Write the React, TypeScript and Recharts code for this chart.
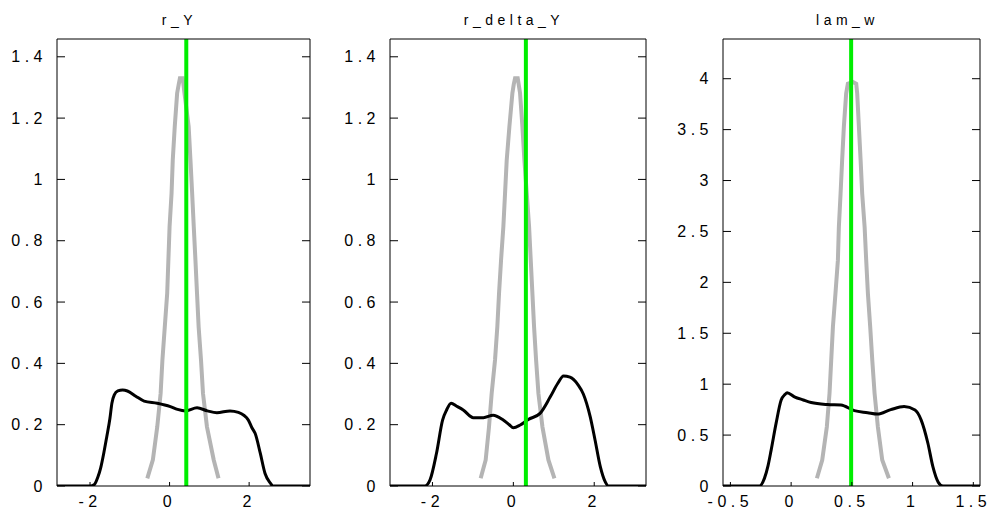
import React from 'react';
import { LineChart, Line, XAxis, YAxis, ReferenceLine } from 'recharts';

// posterior (black) and prior (grey) densities as [x, density]
const rYPost = [
  [-2.83, 0], [-2.0, 0], [-1.89, 0.005], [-1.8, 0.03], [-1.73, 0.06], [-1.65, 0.11], [-1.58, 0.16],
  [-1.5, 0.22], [-1.45, 0.27], [-1.39, 0.297], [-1.3, 0.31], [-1.18, 0.313], [-1.06, 0.31],
  [-0.85, 0.293], [-0.64, 0.277], [-0.31, 0.27], [0.02, 0.259], [0.2, 0.25], [0.4, 0.245],
  [0.69, 0.255], [0.95, 0.245], [1.19, 0.239], [1.52, 0.245], [1.73, 0.24], [1.98, 0.215],
  [2.07, 0.19], [2.15, 0.172], [2.28, 0.107], [2.4, 0.041], [2.53, 0.01], [2.6, 0], [3.53, 0],
];
const rYPrior = [
  [-0.56, 0.025], [-0.42, 0.085], [-0.31, 0.193], [-0.225, 0.302], [-0.18, 0.411], [-0.12, 0.52],
  [-0.06, 0.628], [-0.03, 0.737], [0.0, 0.846], [0.05, 0.955], [0.08, 1.063], [0.13, 1.172],
  [0.19, 1.281], [0.23, 1.31], [0.26, 1.33], [0.33, 1.33], [0.375, 1.281], [0.48, 1.172],
  [0.525, 1.063], [0.567, 0.955], [0.608, 0.846], [0.65, 0.737], [0.69, 0.628], [0.73, 0.52],
  [0.79, 0.411], [0.84, 0.302], [0.94, 0.193], [1.11, 0.085], [1.23, 0.025],
];
const rYTrue = 0.42;

const rDeltaYPost = [
  [-3.05, 0], [-2.19, 0], [-2.06, 0.02], [-1.9, 0.107], [-1.75, 0.215], [-1.65, 0.248],
  [-1.54, 0.27], [-1.4, 0.26], [-1.24, 0.248], [-0.99, 0.223], [-0.74, 0.223], [-0.5, 0.231],
  [-0.25, 0.215], [-0.1, 0.2], [0.0, 0.19], [0.17, 0.199], [0.37, 0.217], [0.66, 0.237],
  [0.91, 0.29], [1.1, 0.335], [1.24, 0.359], [1.4, 0.355], [1.6, 0.33], [1.73, 0.3],
  [1.9, 0.226], [2.02, 0.15], [2.15, 0.063], [2.27, 0.014], [2.35, 0], [3.28, 0],
];
const rDeltaYPrior = [
  [-0.808, 0.025], [-0.684, 0.085], [-0.602, 0.193], [-0.536, 0.302], [-0.453, 0.411],
  [-0.396, 0.52], [-0.354, 0.628], [-0.304, 0.737], [-0.247, 0.846], [-0.205, 0.955],
  [-0.164, 1.063], [-0.098, 1.172], [-0.024, 1.281], [0.01, 1.31], [0.042, 1.33], [0.108, 1.33],
  [0.166, 1.281], [0.224, 1.172], [0.273, 1.063], [0.331, 0.955], [0.389, 0.846], [0.43, 0.737],
  [0.471, 0.628], [0.512, 0.52], [0.562, 0.411], [0.62, 0.302], [0.719, 0.193], [0.867, 0.085],
  [1.016, 0.025],
];
const rDeltaYTrue = 0.31;

const lamWPost = [
  [-0.561, 0], [-0.26, 0], [-0.22, 0.075], [-0.19, 0.2], [-0.165, 0.35], [-0.124, 0.615],
  [-0.082, 0.844], [-0.05, 0.9], [-0.033, 0.916], [0.027, 0.876], [0.1, 0.845], [0.165, 0.82],
  [0.3, 0.8], [0.41, 0.795], [0.52, 0.74], [0.63, 0.72], [0.71, 0.706], [0.82, 0.75],
  [0.93, 0.78], [1.02, 0.746], [1.07, 0.65], [1.126, 0.42], [1.167, 0.19], [1.21, 0.04],
  [1.25, 0], [1.555, 0],
];
const lamWPrior = [
  [0.212, 0.076], [0.256, 0.255], [0.294, 0.582], [0.316, 0.91], [0.33, 1.237], [0.344, 1.563],
  [0.365, 1.891], [0.385, 2.218], [0.393, 2.545], [0.407, 2.872], [0.42, 3.2], [0.434, 3.526],
  [0.453, 3.854], [0.467, 3.95], [0.508, 3.968], [0.536, 3.95], [0.544, 3.854], [0.558, 3.526],
  [0.572, 3.2], [0.585, 2.872], [0.605, 2.545], [0.618, 2.218], [0.632, 1.891], [0.651, 1.563],
  [0.668, 1.237], [0.687, 0.91], [0.714, 0.582], [0.75, 0.255], [0.805, 0.076],
];
const lamWTrue = 0.494;

const xTicksWide = [-2, 0, 2];
const xTicksLam = [-0.5, 0, 0.5, 1, 1.5];
const yTicksR = [0, 0.2, 0.4, 0.6, 0.8, 1, 1.2, 1.4];
const yTicksLam = [0, 0.5, 1, 1.5, 2, 2.5, 3, 3.5, 4];

const toPts = (a: number[][]) => a.map(([x, y]) => ({ x, y }));

const FONT = '"Liberation Sans", Arial, Helvetica, sans-serif';
const tickStyle = { fontSize: 16, fill: '#000', letterSpacing: 4.5, fontFamily: FONT };
const noLabel = () => <g />;

type PanelProps = {
  title: string;
  post: number[][];
  prior: number[][];
  truth: number;
  xDomain: [number, number];
  xTicks: number[];
  yDomain: [number, number];
  yTicks: number[];
  left: number;
  width: number;
  yw: number;
  rw: number;
};

const Panel = ({ title, post, prior, truth, xDomain, xTicks, yDomain, yTicks, left, width, yw, rw }: PanelProps) => {
  const plotCenter = yw + (width - yw - rw) / 2;
  return (
    <div style={{ position: 'absolute', left, top: 0, width, height: 513 }}>
      <div
        style={{
          position: 'absolute', left: plotCenter - 104, width: 200, top: 13, textAlign: 'center',
          fontFamily: FONT, fontSize: 14, lineHeight: '14px', letterSpacing: 4.5, color: '#000',
        }}
      >
        {title}
      </div>
      <LineChart width={width} height={513} margin={{ top: 0, right: 0, bottom: 0, left: 0 }}>
        <XAxis dataKey="x" type="number" domain={xDomain} ticks={xTicks} allowDataOverflow
          height={27} stroke="#000" tickSize={-4} tickMargin={14} tick={tickStyle} tickFormatter={String} />
        <XAxis xAxisId="top" orientation="top" type="number" domain={xDomain} ticks={xTicks} allowDataOverflow
          height={39} stroke="#000" tickSize={-4} tick={noLabel} />
        <YAxis type="number" domain={yDomain} ticks={yTicks} allowDataOverflow width={yw}
          stroke="#000" tickSize={-8} tickMargin={18} tick={tickStyle} tickFormatter={String} />
        <YAxis yAxisId="right" orientation="right" type="number" domain={yDomain} ticks={yTicks} allowDataOverflow
          width={rw} stroke="#000" tickSize={-8} tick={noLabel} />
        <Line data={toPts(prior)} dataKey="y" type="linear" stroke="#b4b4b4" strokeWidth={4}
          dot={false} isAnimationActive={false} />
        <Line data={toPts(post)} dataKey="y" type="monotone" stroke="#000" strokeWidth={3}
          dot={false} isAnimationActive={false} />
        <ReferenceLine x={truth} stroke="#00ee00" strokeWidth={4} />
      </LineChart>
    </div>
  );
};

export default function App() {
  return (
    <div style={{ position: 'absolute', left: 0, top: 0, width: 991, height: 513, background: '#fff' }}>
      <Panel title="r_Y" post={rYPost} prior={rYPrior} truth={rYTrue}
        xDomain={[-2.83, 3.53]} xTicks={xTicksWide} yDomain={[0, 1.458]} yTicks={yTicksR}
        left={0} width={330} yw={57} rw={20} />
      <Panel title="r_delta_Y" post={rDeltaYPost} prior={rDeltaYPrior} truth={rDeltaYTrue}
        xDomain={[-3.05, 3.28]} xTicks={xTicksWide} yDomain={[0, 1.458]} yTicks={yTicksR}
        left={330} width={330} yw={60} rw={14} />
      <Panel title="lam_w" post={lamWPost} prior={lamWPrior} truth={lamWTrue}
        xDomain={[-0.561, 1.555]} xTicks={xTicksLam} yDomain={[0, 4.39]} yTicks={yTicksLam}
        left={660} width={331} yw={63} rw={11} />
    </div>
  );
}
